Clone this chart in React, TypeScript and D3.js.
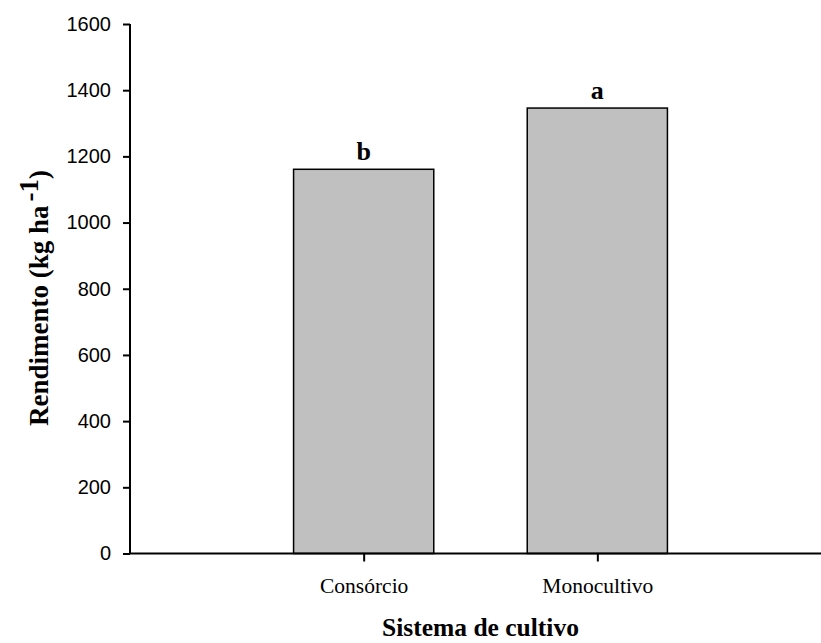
import React, { useEffect, useRef } from "react";
import * as d3 from "d3";

// values
const categories = ["Consórcio", "Monocultivo"];
const rendimento = [1161, 1346];
const letters = ["b", "a"];
const yTicks = [0, 200, 400, 600, 800, 1000, 1200, 1400, 1600];

const App = () => {
  const svgRef = useRef<SVGSVGElement>(null);

  useEffect(() => {
    const width = 821;
    const height = 643;
    const svg = d3.select(svgRef.current).attr("width", width).attr("height", height);
    svg.selectAll("*").remove();

    const left = 130;
    const bottom = 553.5;
    const top = 24;

    // categories sit at 1 and 2 on a 0..3 axis
    const x = d3.scaleLinear().domain([0, 3]).range([left, 831]);
    const y = d3.scaleLinear().domain([0, 1600]).range([bottom, top]);
    const barW = x(0.6) - x(0);

    const serif = "'Liberation Serif', 'Times New Roman', serif";
    const sans = "'Liberation Sans', Arial, sans-serif";

    // bars
    svg.selectAll(".bar")
      .data(rendimento)
      .join("rect")
      .attr("class", "bar")
      .attr("x", (d, i) => x(i + 1) - barW / 2)
      .attr("y", (d) => y(d))
      .attr("width", barW)
      .attr("height", (d) => bottom - y(d))
      .attr("fill", "#c0c0c0")
      .attr("stroke", "#000")
      .attr("stroke-width", 1.5);

    // significance letters
    svg.selectAll(".letter")
      .data(rendimento)
      .join("text")
      .attr("class", "letter")
      .attr("x", (d, i) => x(i + 1))
      .attr("y", (d) => y(d) - 9)
      .attr("text-anchor", "middle")
      .style("font-family", serif)
      .style("font-weight", "bold")
      .style("font-size", "26px")
      .text((d, i) => letters[i]);

    // y axis
    const yAxis = svg.append("g").attr("transform", `translate(${left},0)`)
      .call(d3.axisLeft(y).tickValues(yTicks).tickSize(7).tickPadding(12).tickFormat(d3.format("d")));
    yAxis.select(".domain").attr("stroke-width", 2).attr("d", `M0,${top}V${bottom}`);
    yAxis.selectAll(".tick line").attr("stroke-width", 2);
    yAxis.selectAll(".tick text")
      .style("font-family", sans)
      .style("font-size", "20px")
      .attr("fill", "#000");

    // x axis
    const xAxis = svg.append("g").attr("transform", `translate(0,${bottom})`)
      .call(d3.axisBottom(x).tickValues([1, 2]).tickSize(8).tickPadding(16)
        .tickFormat((d) => categories[(d as number) - 1]));
    xAxis.select(".domain").attr("stroke-width", 2).attr("d", `M${left - 1},0H${width}`);
    xAxis.selectAll(".tick line").attr("stroke-width", 2);
    xAxis.selectAll(".tick text")
      .style("font-family", serif)
      .style("font-size", "21.5px")
      .attr("fill", "#000");

    // axis titles
    svg.append("text")
      .attr("x", (x(0) + x(3)) / 2)
      .attr("y", 636)
      .attr("text-anchor", "middle")
      .style("font-family", serif)
      .style("font-weight", "bold")
      .style("font-size", "25.5px")
      .text("Sistema de cultivo");

    const yl = svg.append("text")
      .attr("transform", `translate(48,298) rotate(-90)`)
      .attr("text-anchor", "middle")
      .style("font-family", serif)
      .style("font-weight", "bold")
      .style("font-size", "27px");
    yl.append("tspan").text("Rendimento (kg ha");
    yl.append("tspan").attr("dy", -10).attr("dx", 4).text("-1");
    yl.append("tspan").attr("dy", 10).text(")");
  }, []);

  return (
    <div style={{ position: "absolute", left: 0, top: 0 }}>
      <svg ref={svgRef} style={{ display: "block", background: "#fff" }}></svg>
    </div>
  );
};

export default App;
